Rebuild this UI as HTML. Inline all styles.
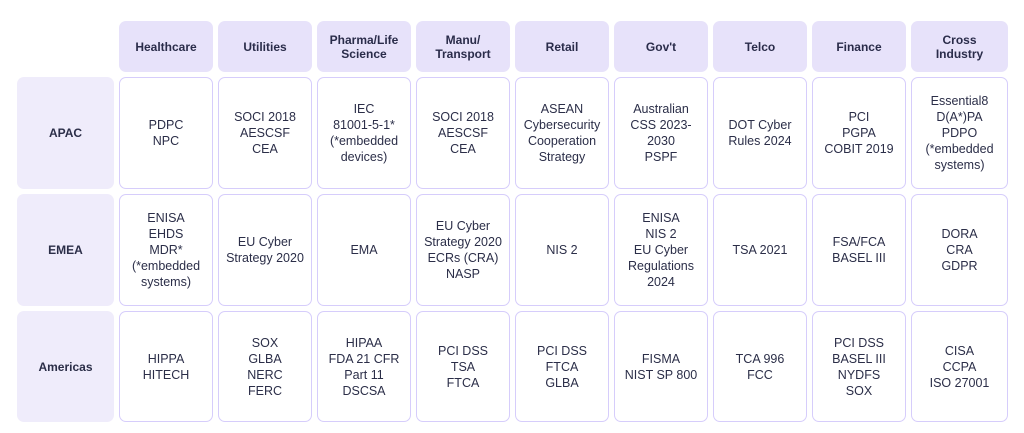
<!DOCTYPE html>
<html><head><meta charset="utf-8"><style>
html,body{margin:0;padding:0;background:#fff;}
body{width:1024px;height:433px;position:relative;overflow:hidden;font-family:"Liberation Sans",sans-serif;color:#2b2e48;}
.c{position:absolute;box-sizing:border-box;border-radius:7px;display:flex;align-items:center;justify-content:center;text-align:center;font-size:12.5px;line-height:16px;}
.h{background:#e7e2fa;font-weight:bold;font-size:12px;line-height:14px;color:#2a2c4a;}
.r{background:#efecfb;font-weight:bold;font-size:12px;}
.d{border:1.5px solid #d6cdfb;background:#fff;}
</style></head><body>
<div class="c h" style="left:119px;top:21px;width:94px;height:51px">Healthcare</div>
<div class="c h" style="left:218px;top:21px;width:94px;height:51px">Utilities</div>
<div class="c h" style="left:317px;top:21px;width:94px;height:51px">Pharma/Life<br>Science</div>
<div class="c h" style="left:416px;top:21px;width:94px;height:51px">Manu/<br>Transport</div>
<div class="c h" style="left:515px;top:21px;width:94px;height:51px">Retail</div>
<div class="c h" style="left:614px;top:21px;width:94px;height:51px">Gov't</div>
<div class="c h" style="left:713px;top:21px;width:94px;height:51px">Telco</div>
<div class="c h" style="left:812px;top:21px;width:94px;height:51px">Finance</div>
<div class="c h" style="left:911px;top:21px;width:97px;height:51px">Cross<br>Industry</div>

<div class="c r" style="left:17px;top:77px;width:97px;height:112px">APAC</div>
<div class="c r" style="left:17px;top:194px;width:97px;height:112px">EMEA</div>
<div class="c r" style="left:17px;top:311px;width:97px;height:111px">Americas</div>

<div class="c d" style="left:119px;top:77px;width:94px;height:112px">PDPC<br>NPC</div>
<div class="c d" style="left:218px;top:77px;width:94px;height:112px">SOCI 2018<br>AESCSF<br>CEA</div>
<div class="c d" style="left:317px;top:77px;width:94px;height:112px">IEC<br>81001-5-1*<br>(*embedded<br>devices)</div>
<div class="c d" style="left:416px;top:77px;width:94px;height:112px">SOCI 2018<br>AESCSF<br>CEA</div>
<div class="c d" style="left:515px;top:77px;width:94px;height:112px">ASEAN<br>Cybersecurity<br>Cooperation<br>Strategy</div>
<div class="c d" style="left:614px;top:77px;width:94px;height:112px">Australian<br>CSS 2023-<br>2030<br>PSPF</div>
<div class="c d" style="left:713px;top:77px;width:94px;height:112px">DOT Cyber<br>Rules 2024</div>
<div class="c d" style="left:812px;top:77px;width:94px;height:112px">PCI<br>PGPA<br>COBIT 2019</div>
<div class="c d" style="left:911px;top:77px;width:97px;height:112px">Essential8<br>D(A*)PA<br>PDPO<br>(*embedded<br>systems)</div>

<div class="c d" style="left:119px;top:194px;width:94px;height:112px">ENISA<br>EHDS<br>MDR*<br>(*embedded<br>systems)</div>
<div class="c d" style="left:218px;top:194px;width:94px;height:112px">EU Cyber<br>Strategy 2020</div>
<div class="c d" style="left:317px;top:194px;width:94px;height:112px">EMA</div>
<div class="c d" style="left:416px;top:194px;width:94px;height:112px">EU Cyber<br>Strategy 2020<br>ECRs (CRA)<br>NASP</div>
<div class="c d" style="left:515px;top:194px;width:94px;height:112px">NIS 2</div>
<div class="c d" style="left:614px;top:194px;width:94px;height:112px">ENISA<br>NIS 2<br>EU Cyber<br>Regulations<br>2024</div>
<div class="c d" style="left:713px;top:194px;width:94px;height:112px">TSA 2021</div>
<div class="c d" style="left:812px;top:194px;width:94px;height:112px">FSA/FCA<br>BASEL III</div>
<div class="c d" style="left:911px;top:194px;width:97px;height:112px">DORA<br>CRA<br>GDPR</div>

<div class="c d" style="left:119px;top:311px;width:94px;height:111px">HIPPA<br>HITECH</div>
<div class="c d" style="left:218px;top:311px;width:94px;height:111px">SOX<br>GLBA<br>NERC<br>FERC</div>
<div class="c d" style="left:317px;top:311px;width:94px;height:111px">HIPAA<br>FDA 21 CFR<br>Part 11<br>DSCSA</div>
<div class="c d" style="left:416px;top:311px;width:94px;height:111px">PCI DSS<br>TSA<br>FTCA</div>
<div class="c d" style="left:515px;top:311px;width:94px;height:111px">PCI DSS<br>FTCA<br>GLBA</div>
<div class="c d" style="left:614px;top:311px;width:94px;height:111px">FISMA<br>NIST SP 800</div>
<div class="c d" style="left:713px;top:311px;width:94px;height:111px">TCA 996<br>FCC</div>
<div class="c d" style="left:812px;top:311px;width:94px;height:111px">PCI DSS<br>BASEL III<br>NYDFS<br>SOX</div>
<div class="c d" style="left:911px;top:311px;width:97px;height:111px">CISA<br>CCPA<br>ISO 27001</div>
</body></html>
